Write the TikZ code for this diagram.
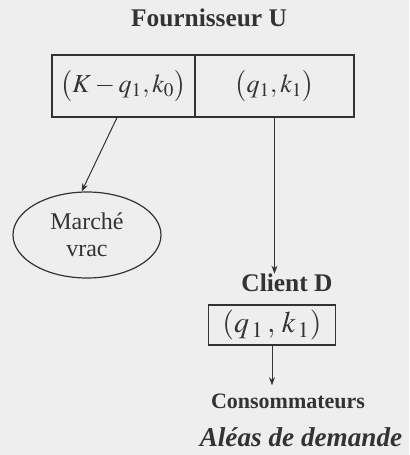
\documentclass[tikz,border=0pt]{standalone}
\usepackage{mathptmx}
\usepackage[no-math]{fontspec}
\setmainfont{Liberation Serif}
\usetikzlibrary{arrows.meta,positioning,shapes.geometric}
\definecolor{fsInk}{HTML}{333333}
\definecolor{fsPaper}{HTML}{EEEEEE}
\tikzset{
  cell/.style={draw=fsInk, line width=0.6pt, inner sep=0pt, minimum height=31pt, text=fsInk, font=\fontsize{13}{15}\selectfont},
  lbl/.style={inner sep=0pt, text=fsInk, font=\fontsize{12.7}{15}\selectfont\bfseries},
  mkt/.style={ellipse, draw=fsInk, line width=0.6pt, inner sep=0pt, minimum width=74pt, minimum height=43pt, align=center, text=fsInk, font=\fontsize{12}{13.5}\selectfont},
  arr/.style={-{Stealth[length=4pt,width=3pt]}, line width=0.5pt, draw=fsInk},
}
\begin{document}
\begin{tikzpicture}[x=0.5pt, y=-0.5pt]
  \fill[fsPaper] (0,0) rectangle (409,455);
  \useasboundingbox (0,0) rectangle (409,455);
  \node[lbl] (four) at (209,18) {Fournisseur U};
  \node[cell, minimum width=71.5pt] (left) at (123.5,86) {$\bigl(K-q_1,k_0\bigr)$};
  \node[cell, minimum width=79.5pt] (right) at (274.5,86) {$\bigl(q_1,k_1\bigr)$};
  \node[mkt] (vrac) at (87,235) {Marché\\vrac};
  \node[lbl] (client) at (287,283) {Client D};
  \node[cell, minimum width=63.5pt, minimum height=20pt, font=\fontsize{15}{17}\selectfont] (box) at (272,325) {$(q_{\,1}\,,\,k_{\,1})$};
  \node[lbl, font=\fontsize{11}{13}\selectfont\bfseries] (cons) at (288,401) {Consommateurs};
  \node[lbl, font=\fontsize{13.6}{16}\selectfont\bfseries\itshape] (alea) at (301,437) {Aléas de demande};
  \draw[arr] ([xshift=-3.25pt]left.south) -- (vrac.97);
  \draw[arr] (right.south) -- (right.south |- client.north);
  \draw[arr] (box.south) -- ([yshift=4pt]box.south |- cons.north);
\end{tikzpicture}
\end{document}
